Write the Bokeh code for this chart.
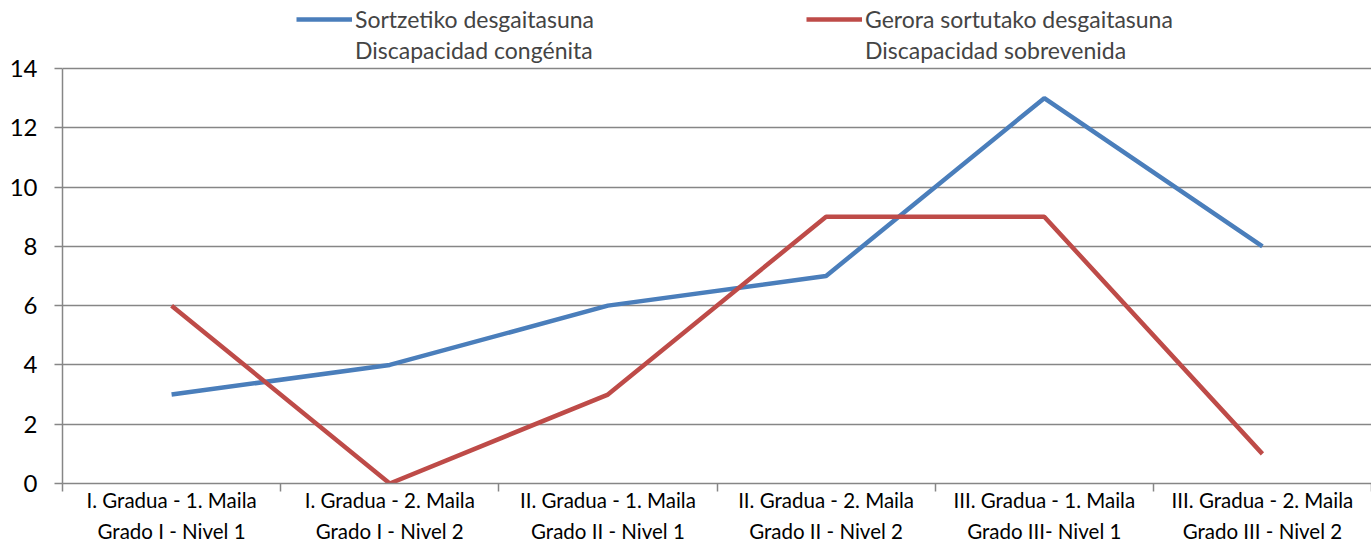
from bokeh.plotting import figure
from bokeh.models import FixedTicker, Legend, LegendItem, Range1d
from bokeh.embed import file_html
from bokeh.resources import INLINE

categories = [
    "I. Gradua - 1. Maila\nGrado I - Nivel 1",
    "I. Gradua - 2. Maila\nGrado I - Nivel 2",
    "II. Gradua - 1. Maila\nGrado II - Nivel 1",
    "II. Gradua - 2. Maila\nGrado II - Nivel 2",
    "III. Gradua - 1. Maila\nGrado III- Nivel 1",
    "III. Gradua - 2. Maila\nGrado III - Nivel 2",
]
congenita = [3, 4, 6, 7, 13, 8]
sobrevenida = [6, 0, 3, 9, 9, 1]
series_names = [
    ["Sortzetiko desgaitasuna", "Discapacidad congénita"],
    ["Gerora sortutako desgaitasuna", "Discapacidad sobrevenida"],
]
y_ticks = [0, 2, 4, 6, 8, 10, 12, 14]

FONT = "Lato"
GREY = "#868686"
BLUE = "#4A7EBB"
RED = "#BE4B48"

xs = [i + 0.5 for i in range(len(categories))]

# frame spans from the top of the page to the 0 line; the axis itself stops at 14
p = figure(frame_width=1309, frame_height=483, output_backend="svg", toolbar_location=None,
           x_range=Range1d(0, len(categories)), y_range=Range1d(0, 14 + 68 / (415 / 14)),
           min_border_left=62, min_border_right=0, min_border_top=0, min_border_bottom=0)
p.outline_line_color = None
p.background_fill_color = "white"
p.border_fill_color = "white"

r1 = p.line(xs, congenita, line_color=BLUE, line_width=4.5)
r2 = p.line(xs, sobrevenida, line_color=RED, line_width=4.5)
# invisible twins, used only so that the second legend line has no visible glyph
r1b = p.line(xs, congenita, line_alpha=0)
r2b = p.line(xs, sobrevenida, line_alpha=0)

# x axis: labels at category centres, tick marks at boundaries
p.xaxis.ticker = FixedTicker(ticks=xs, minor_ticks=list(range(len(categories) + 1)))
p.xaxis.major_label_overrides = {x: c for x, c in zip(xs, categories)}
p.xaxis.major_tick_line_color = None
p.xaxis.major_tick_out = 0
p.xaxis.major_tick_in = 0
p.xaxis.minor_tick_in = 0
p.xaxis.minor_tick_out = 8
p.xaxis.minor_tick_line_color = GREY
p.xaxis.minor_tick_line_width = 1.5
p.xaxis.axis_line_color = GREY
p.xaxis.axis_line_width = 1.5
p.xaxis.major_label_text_font = FONT
p.xaxis.major_label_text_font_size = "20.5px"
p.xaxis.major_label_text_color = "black"
p.xaxis.major_label_text_line_height = 1.3
p.xaxis.major_label_standoff = -4
p.xgrid.grid_line_color = None

p.yaxis.ticker = FixedTicker(ticks=y_ticks)
p.yaxis.bounds = (0, 14)
p.yaxis.minor_tick_line_color = None
p.yaxis.major_tick_in = 0
p.yaxis.major_tick_out = 8
p.yaxis.major_tick_line_color = GREY
p.yaxis.major_tick_line_width = 1.5
p.yaxis.axis_line_color = GREY
p.yaxis.axis_line_width = 1.5
p.yaxis.major_label_text_font = FONT
p.yaxis.major_label_text_font_size = "24px"
p.yaxis.major_label_text_color = "black"
p.yaxis.major_label_standoff = 17
p.ygrid.ticker = FixedTicker(ticks=y_ticks)
p.ygrid.grid_line_color = GREY
p.ygrid.grid_line_width = 1.5

for (ra, rb), names, loc in [((r1, r1b), series_names[0], (234, 419)),
                             ((r2, r2b), series_names[1], (744, 419))]:
    lg = Legend(items=[LegendItem(label=names[0], renderers=[ra]),
                       LegendItem(label=names[1], renderers=[rb])],
                location=loc, background_fill_alpha=0, border_line_color=None,
                glyph_width=56, glyph_height=20, label_standoff=3, padding=0, margin=0,
                spacing=3, label_height=28,
                label_text_font=FONT, label_text_font_size="23px",
                label_text_line_height=1.2)
    p.add_layout(lg, "center")

open("out.html", "w").write(file_html(p, INLINE))
